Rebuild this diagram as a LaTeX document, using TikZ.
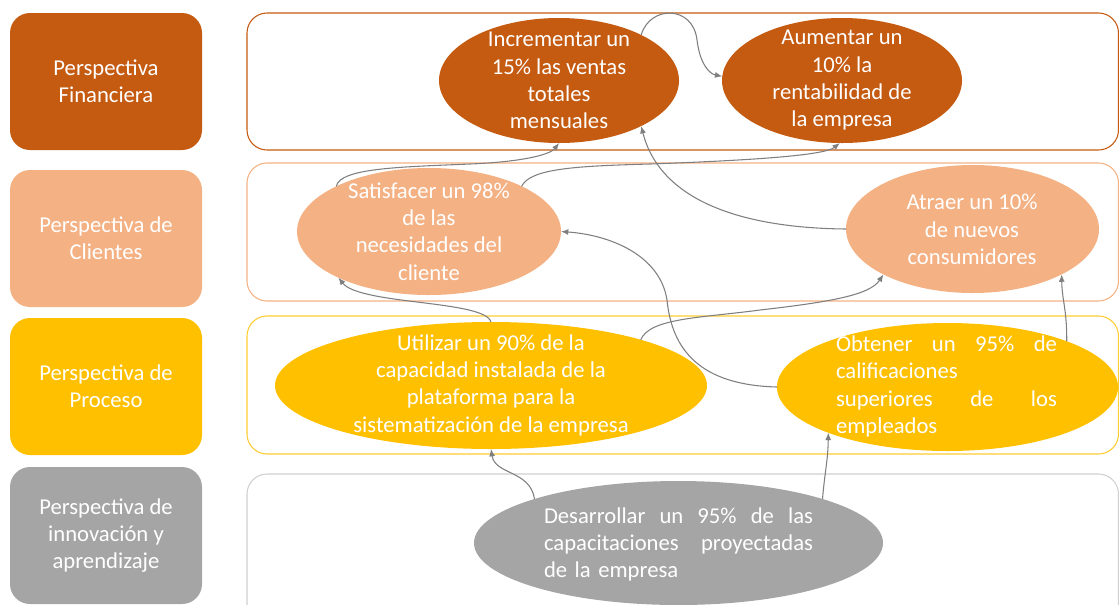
\documentclass[tikz,border=0pt]{standalone}
\usepackage{fontspec}
\setmainfont{Carlito}
\usetikzlibrary{shapes.geometric,arrows.meta}
\definecolor{fin}{HTML}{C55A11}
\definecolor{cli}{HTML}{F4B183}
\definecolor{pro}{HTML}{FFC000}
\definecolor{inn}{HTML}{A5A5A5}
\definecolor{innline}{HTML}{D0D0D0}
\definecolor{conncol}{HTML}{7F7F7F}
\begin{document}
\begin{tikzpicture}[x=0.75pt,y=-0.75pt,
  lbox/.style={rectangle, rounded corners=15pt, minimum width=144pt, minimum height=102.75pt, inner sep=0, text=white, align=center, font=\fontsize{17}{20.5}\selectfont},
  panel/.style={rectangle, rounded corners=15pt, minimum width=653.6pt, inner sep=0, line width=0.8pt},
  ell/.style={ellipse, inner sep=0, outer sep=0},
  txt/.style={text=white, align=center, inner sep=0, font=\fontsize{17}{20.5}\selectfont},
  jtxt/.style={text=white, align=left, inner sep=0, font=\fontsize{17}{20.5}\selectfont},
  cnx/.style={draw=conncol, line width=0.8pt, -{Latex[length=5.5pt,width=4.5pt]}}
]
\useasboundingbox (0,0) rectangle (1119,604);
\clip (0,0) rectangle (1119,604);

% left boxes
\node[lbox, fill=fin] (l1) at (106,81.5) {Perspectiva\\Financiera};
\node[lbox, fill=cli] (l2) at (106,238.5) {Perspectiva de\\Clientes};
\node[lbox, fill=pro] (l3) at (106,386.5) {Perspectiva de\\Proceso};
\node[lbox, fill=inn] (l4) at (106,535.5) {Perspectiva de\\innovación y\\aprendizaje};

% panels
\node[panel, draw=fin, minimum height=102.75pt] (p1) at (682.75,81.5) {};
\node[panel, draw=cli, minimum height=103.5pt] (p2) at (682.75,232) {};
\node[panel, draw=pro!80, minimum height=103.5pt] (p3) at (682.75,385) {};
\node[panel, draw=innline, minimum height=132pt] (p4) at (682.75,562) {};

% ellipses
\node[ell, fill=fin, minimum width=180pt, minimum height=93.75pt] (e1) at (559,80.5) {};
\node[ell, fill=fin, minimum width=180pt, minimum height=93.75pt] (e2) at (842,80.5) {};
\node[ell, fill=cli, minimum width=198pt, minimum height=95.25pt] (e3) at (429,231.5) {};
\node[ell, fill=cli, minimum width=189.75pt, minimum height=96pt] (e4) at (972.5,229) {};
\node[ell, fill=pro, minimum width=324pt, minimum height=95.25pt] (e5) at (491,385.5) {};
\node[ell, fill=pro, minimum width=255.75pt, minimum height=96pt] (e6) at (947.5,387) {};
\node[ell, fill=inn, minimum width=306.75pt, minimum height=93pt] (e7) at (678.5,543) {};

% texts
\node[txt] (t1) at (559,80.5) {Incrementar un\\15\% las ventas\\totales\\mensuales};
\node[txt] (t2) at (842,80.5) {Aumentar un\\10\% la\\rentabilidad de\\la empresa};
\node[txt] (t3) at (429,231.5) {Satisfacer un 98\%\\de las\\necesidades del\\cliente};
\node[txt] (t4) at (972,229.5) {Atraer un 10\%\\de nuevos\\consumidores};
\node[txt] (t5) at (491,385) {Utilizar un 90\% de la\\capacidad instalada de la\\plataforma para la\\sistematización de la empresa};
\node[jtxt, text width=165.75pt] (t6) at (946.5,386.5) {\makebox[165.75pt][l]{Obtener\hfill un\hfill 95\%\hfill de}\\calificaciones\\\makebox[165.75pt][l]{superiores\hfill de\hfill los}\\empleados};
\node[jtxt, text width=201.75pt] (t7) at (678.5,544.5) {\makebox[201.75pt][l]{Desarrollar\hfill un\hfill 95\%\hfill de\hfill las}\\\makebox[201.75pt][l]{capacitaciones\hfill proyectadas}\\de la empresa};

% connectors
\draw[cnx] (e1.29) .. controls (650,5) and (693,5) .. (697,40) .. controls (700,65) and (710,74) .. (e2.178);
\draw[cnx] (e3.154) .. controls (340,168) and (400,167) .. (470,164) .. controls (520,162) and (550,155) .. (e1.south);
\draw[cnx] (e3.26) .. controls (530,168) and (580,166) .. (650,164) .. controls (760,160) and (825,155) .. (e2.268);
\draw[cnx] (e4.west) .. controls (740,228) and (660,200) .. (e1.331);
\draw[cnx] (e5.north) .. controls (485,300) and (360,305) .. (e3.207);
\draw[cnx] (e6.west) .. controls (700,385) and (672,350) .. (667,300) .. controls (660,255) and (610,235) .. (e3.east);
\draw[cnx] (e5.17) .. controls (650,318) and (700,318) .. (760,310) .. controls (830,302) and (870,295) .. (e4.207);
\draw[cnx] (e6.21) .. controls (1067,310) and (1062,300) .. (e4.333);
\draw[cnx] (e7.163) .. controls (530,470) and (495,475) .. (e5.south);
\draw[cnx] (e7.17) .. controls (825,470) and (828,460) .. (e6.201);
\end{tikzpicture}
\end{document}
